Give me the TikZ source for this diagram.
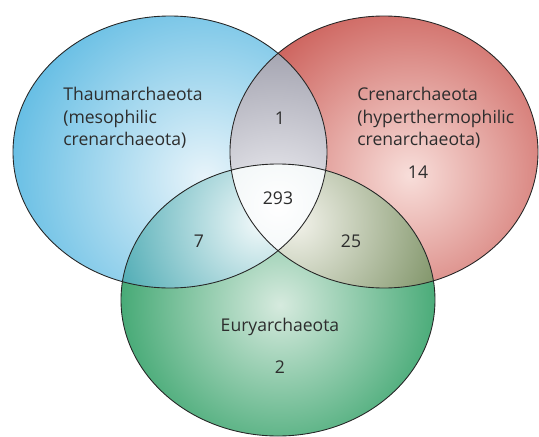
\documentclass[tikz,border=0pt]{standalone}
\usepackage{fontspec}
\setmainfont{Open Sans}
\usepackage{xcolor}
\usetikzlibrary{positioning}

\definecolor{thaumdark}{RGB}{78,180,224}
\definecolor{thaumlight}{RGB}{232,244,250}
\definecolor{crendark}{RGB}{195,70,64}
\definecolor{crenlight}{RGB}{248,222,218}
\definecolor{eurydark}{RGB}{26,150,86}
\definecolor{eurylight}{RGB}{214,234,222}
\definecolor{greydark}{RGB}{140,140,155}
\definecolor{greylight}{RGB}{242,242,246}
\definecolor{tealdark}{RGB}{50,158,168}
\definecolor{teallight}{RGB}{242,249,250}
\definecolor{olivedark}{RGB}{108,132,82}
\definecolor{olivelight}{RGB}{242,242,234}
\definecolor{coredark}{RGB}{222,234,236}
\definecolor{labeltext}{RGB}{45,45,45}

% the three sets
\def\thaumset{(170,152) ellipse [x radius=157, y radius=136]}
\def\crenset{(384,152) ellipse [x radius=154, y radius=136]}
\def\euryset{(278,300) ellipse [x radius=157, y radius=136]}

\begin{document}
\begin{tikzpicture}[
  x=0.02cm,y=-0.02cm,
  setlabel/.style={font=\fontsize{10}{12.8}\selectfont, text=labeltext, inner sep=0pt, align=left},
  count/.style={font=\fontsize{10}{12.8}\selectfont, text=labeltext, inner sep=0pt},
  rim/.style={draw=black!85, line width=0.5pt}
]
\useasboundingbox (0,0) rectangle (539,437);

% single sets
\begin{scope}
  \clip \thaumset;
  \shade[inner color=thaumlight, outer color=thaumdark] (205,178) circle (235);
\end{scope}
\begin{scope}
  \clip \crenset;
  \shade[inner color=crenlight, outer color=crendark] (410,175) circle (225);
\end{scope}
\begin{scope}
  \clip \thaumset; \clip \crenset;
  \shade[inner color=greylight, outer color=greydark] (275,210) circle (210);
\end{scope}
\begin{scope}
  \clip \euryset;
  \shade[inner color=eurylight, outer color=eurydark] (280,305) circle (210);
\end{scope}

% overlaps with Euryarchaeota
\begin{scope}
  \clip \thaumset; \clip \euryset;
  \shade[inner color=teallight, outer color=tealdark] (260,222) circle (180);
\end{scope}
\begin{scope}
  \clip \crenset; \clip \euryset;
  \shade[inner color=olivelight, outer color=olivedark] (296,222) circle (180);
\end{scope}
\begin{scope}
  \clip \thaumset; \clip \crenset; \clip \euryset;
  \shade[inner color=white, outer color=coredark] (278,205) circle (150);
\end{scope}

\draw[rim] \thaumset;
\draw[rim] \crenset;
\draw[rim] \euryset;

% labels
\node[setlabel, anchor=west] (thaum) at (63,118) {Thaumarchaeota\\(mesophilic\\crenarchaeota)};
\node[setlabel, anchor=west] (cren) at (357,118) {Crenarchaeota\\(hyperthermophilic\\crenarchaeota)};
\node[setlabel] (eury) at (280,327) {Euryarchaeota};
\node[count] (ncren) at (418,172) {14};
\node[count] (ntc) at (280,118) {1};
\node[count] (nall) at (278,198) {293};
\node[count] (nte) at (199,241) {7};
\node[count] (nce) at (351,241) {25};
\node[count] (neury) at (280,367) {2};
\end{tikzpicture}
\end{document}
